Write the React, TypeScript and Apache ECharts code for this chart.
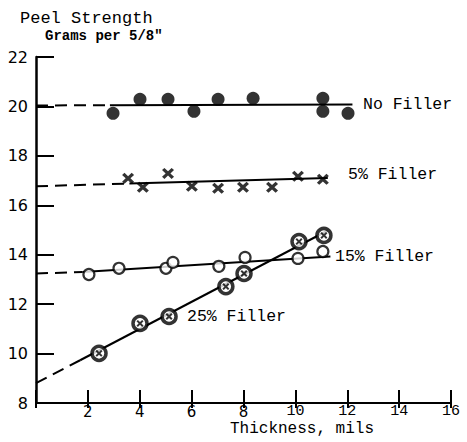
import React, { useEffect, useRef } from "react";
import * as echarts from "echarts";

// Measured peel strength (grams per 5/8") against film thickness (mils)
const noFiller: [number, number][] = [
  [2.97, 19.72], [4.01, 20.29], [5.09, 20.29], [6.09, 19.8], [7.02, 20.29],
  [8.37, 20.33], [11.06, 20.33], [11.06, 19.8], [12.03, 19.72],
];
const filler5: [number, number][] = [
  [3.55, 17.09], [4.12, 16.73], [5.09, 17.29], [6.01, 16.77], [7.02, 16.69],
  [7.98, 16.73], [9.1, 16.73], [10.1, 17.17], [11.06, 17.05],
];
const filler15: [number, number][] = [
  [2.04, 13.2], [3.2, 13.45], [5.01, 13.45], [5.28, 13.69], [7.05, 13.53],
  [8.06, 13.89], [10.1, 13.85], [11.06, 14.13],
];
const filler25: [number, number][] = [
  [2.43, 10.01], [4.01, 11.22], [5.13, 11.5], [7.32, 12.71], [8.02, 13.24],
  [10.14, 14.53], [11.1, 14.78],
];

// Fitted trend lines: solid over the measured range, dashed where extrapolated
const noFillerFit: [number, number][] = [[2.85, 20.05], [12.2, 20.08]];
const noFillerExt: [number, number][] = [[0, 20.04], [2.85, 20.05]];
const filler5Fit: [number, number][] = [[3.6, 16.88], [11.25, 17.1]];
const filler5Ext: [number, number][] = [[0, 16.77], [3.6, 16.88]];
const filler15Fit: [number, number][] = [[1.8, 13.3], [11.35, 13.93]];
const filler15Ext: [number, number][] = [[0, 13.24], [1.8, 13.3]];
const filler25Fit: [number, number][] = [[1.7, 9.73], [11.25, 14.98]];
const filler25Ext: [number, number][] = [[0, 8.8], [1.7, 9.73]];

const MONO = "'Liberation Mono', 'DejaVu Sans Mono', monospace";
const SANS = "'DejaVu Sans', sans-serif";
const INK = "#000";

// Heavy typewriter-style "x" mark
const CROSS =
  "path://M0,2L2,0L5,3L8,0L10,2L7,5L10,8L8,10L5,7L2,10L0,8L3,5Z";

function trend(data: [number, number][], dashed: boolean) {
  return {
    type: "line",
    data,
    symbol: "none",
    silent: true,
    z: 2,
    lineStyle: { color: INK, width: 2, type: dashed ? [12, 7] : "solid" },
  };
}

export default function App() {
  const ref = useRef<HTMLDivElement>(null);

  useEffect(() => {
    if (!ref.current) return;
    const chart = echarts.init(ref.current, null, { renderer: "svg" });

    const axisCommon = {
      type: "value",
      min: 0,
      max: 16,
      interval: 2,
      splitLine: { show: false },
    };

    chart.setOption({
      animation: false,
      backgroundColor: "#fff",
      grid: { left: 36, right: 16, top: 57, bottom: 39, outerBoundsMode: "none" },
      xAxis: [
        {
          ...axisCommon,
          position: "bottom",
          axisLine: { show: true, lineStyle: { color: INK, width: 2 } },
          axisTick: { show: true, inside: true, length: 13, lineStyle: { color: INK, width: 2 } },
          axisLabel: {
            margin: 1,
            color: INK,
            formatter: (v: number) => (v === 0 ? "" : v < 10 ? `{s|${v}}` : `{m|${v}}`),
            rich: {
              s: { fontFamily: SANS, fontSize: 15, color: INK },
              m: { fontFamily: MONO, fontSize: 15, color: INK },
            },
          },
        },
        {
          ...axisCommon,
          position: "bottom",
          axisLine: { show: false },
          axisTick: { show: true, inside: false, length: 5, lineStyle: { color: INK, width: 2 } },
          axisLabel: { show: false },
        },
      ],
      yAxis: {
        type: "value",
        min: 8,
        max: 22,
        interval: 2,
        splitLine: { show: false },
        axisLine: { show: true, lineStyle: { color: INK, width: 2.5 } },
        axisTick: { show: true, inside: true, length: 18, lineStyle: { color: INK, width: 2 } },
        axisLabel: { margin: 8, color: INK, fontFamily: SANS, fontSize: 16 },
      },
      series: [
        trend(noFillerExt, true),
        trend(noFillerFit, false),
        trend(filler5Ext, true),
        trend(filler5Fit, false),
        trend(filler15Ext, true),
        trend(filler15Fit, false),
        trend(filler25Ext, true),
        trend(filler25Fit, false),
        {
          name: "No Filler",
          type: "scatter",
          data: noFiller,
          symbol: "circle",
          symbolSize: 13,
          z: 3,
          itemStyle: { color: INK },
        },
        {
          name: "5% Filler",
          type: "scatter",
          data: filler5,
          symbol: CROSS,
          symbolSize: [12, 11],
          z: 3,
          itemStyle: { color: INK },
        },
        {
          name: "15% Filler",
          type: "scatter",
          data: filler15,
          symbol: "circle",
          symbolSize: 11,
          z: 3,
          itemStyle: { color: "#fff", borderColor: INK, borderWidth: 2.2 },
        },
        {
          name: "25% Filler",
          type: "scatter",
          data: filler25,
          symbol: "circle",
          symbolSize: 14,
          z: 3,
          itemStyle: { color: "#fff", borderColor: INK, borderWidth: 3.5 },
        },
        {
          name: "25% Filler",
          type: "scatter",
          data: filler25,
          symbol: CROSS,
          symbolSize: 7,
          z: 4,
          itemStyle: { color: INK },
        },
      ],
      graphic: [
        {
          type: "text",
          left: 20,
          top: 10,
          style: { text: "Peel Strength", font: `17px ${MONO}`, fill: INK },
        },
        {
          type: "text",
          left: 45,
          top: 29,
          style: { text: 'Grams per 5/8"', font: `bold 14px ${MONO}`, fill: INK },
        },
        {
          type: "text",
          left: 363,
          top: 96,
          style: { text: "No Filler", font: `16.5px ${MONO}`, fill: INK },
        },
        {
          type: "text",
          left: 348,
          top: 166,
          style: { text: "5% Filler", font: `16.5px ${MONO}`, fill: INK },
        },
        {
          type: "text",
          left: 335,
          top: 248,
          style: { text: "15% Filler", font: `16.5px ${MONO}`, fill: INK },
        },
        {
          type: "text",
          left: 187,
          top: 308,
          style: { text: "25% Filler", font: `16.5px ${MONO}`, fill: INK },
        },
        {
          type: "text",
          left: 230,
          top: 421,
          style: { text: "Thickness, mils", font: `16px ${MONO}`, fill: INK },
        },
      ],
    });

    return () => chart.dispose();
  }, []);

  return (
    <div
      ref={ref}
      style={{ position: "fixed", left: 0, top: 0, width: 467, height: 442, background: "#fff" }}
    />
  );
}
